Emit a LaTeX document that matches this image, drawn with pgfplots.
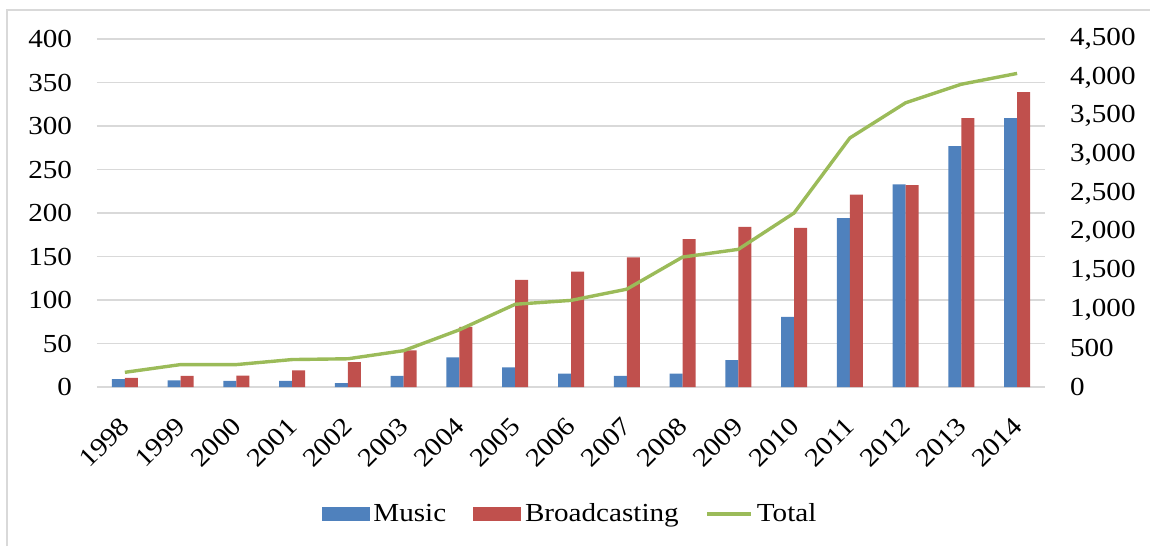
\documentclass[border=0pt]{standalone}
\usepackage{fontspec}
\setmainfont{Liberation Serif}[FakeStretch=1.12]
\usepackage{pgfplots}
\pgfplotsset{compat=1.18}
\definecolor{cblue}{HTML}{4F81BD}
\definecolor{cred}{HTML}{C0504D}
\definecolor{cgreen}{HTML}{9BBB59}
\definecolor{cgrid}{HTML}{D9D9D9}
\begin{document}
\begin{tikzpicture}
\path[use as bounding box] (-48.5pt,-79.5pt) rectangle (526.5pt,193.5pt);
\draw[cgrid, line width=0.8pt] (-45pt,-79.5pt) -- (-45pt,188.5pt) -- (526.5pt,188.5pt);
\pgfplotsset{
  base/.style={
    scale only axis, width=474pt, height=174pt,
    xmin=-0.5, xmax=16.5, ymin=0,
    major tick length=0pt,
    tick label style={font=\fontsize{13}{15}\selectfont},
    /pgf/number format/assume math mode=true,
    /pgf/number format/1000 sep={,},
  }
}
\begin{axis}[base,
  ymax=400, ytick={0,50,...,400},
  axis y line*=left, axis x line*=bottom,
  axis line style={draw=none},
  ymajorgrids, grid style={cgrid, line width=0.8pt},
  xtick={0,...,16},
  xticklabels={1998,1999,2000,2001,2002,2003,2004,2005,2006,2007,2008,2009,2010,2011,2012,2013,2014},
  xticklabel style={rotate=45, anchor=north east, inner sep=0pt, xshift=-12pt, yshift=-7.8pt},
  yticklabel style={anchor=east, xshift=-9pt},
  ybar=0pt, bar width=6.5pt,
]
\addplot[fill=cblue, draw=none] coordinates {
(0,9) (1,7.5) (2,7) (3,7) (4,4.6) (5,12.7) (6,34) (7,22.7) (8,15.4) (9,12.7) (10,15.4) (11,30.8) (12,80.7) (13,194) (14,233) (15,277) (16,309)};
\addplot[fill=cred, draw=none] coordinates {
(0,10.4) (1,12.7) (2,13) (3,19) (4,28.5) (5,42) (6,69) (7,123) (8,132.6) (9,149) (10,170) (11,184) (12,183) (13,221) (14,232) (15,309) (16,339)};
\end{axis}
\begin{axis}[base,
  ymax=4500, ytick={0,500,...,4500},
  axis y line*=right, axis line style={draw=none},
  hide x axis,
  yticklabel style={anchor=west, xshift=9pt},
  legend columns=-1,
  legend style={draw=none, at={(0.5,-0.365)}, anchor=center,
    font=\fontsize{13}{15}\selectfont,
    /tikz/every even column/.append style={column sep=11.5pt},
    /tikz/every odd column/.append style={column sep=0pt}},
]
\addlegendimage{legend image code/.code={\fill[cblue] (0pt,-3.25pt) rectangle (23.5pt,3.25pt);}}
\addlegendentry{Music}
\addlegendimage{legend image code/.code={\fill[cred] (0pt,-3.25pt) rectangle (23.5pt,3.25pt);}}
\addlegendentry{Broadcasting}
\addplot[cgreen, line width=1.7pt, legend image code/.code={\draw[cgreen, line width=1.6pt] (0pt,0pt) -- (22pt,0pt);}] coordinates {
(0,190) (1,290) (2,290) (3,355) (4,365) (5,470) (6,740) (7,1070) (8,1120) (9,1265) (10,1680) (11,1780) (12,2250) (13,3220) (14,3675) (15,3915) (16,4055)};
\addlegendentry{Total}
\end{axis}
\end{tikzpicture}
\end{document}
